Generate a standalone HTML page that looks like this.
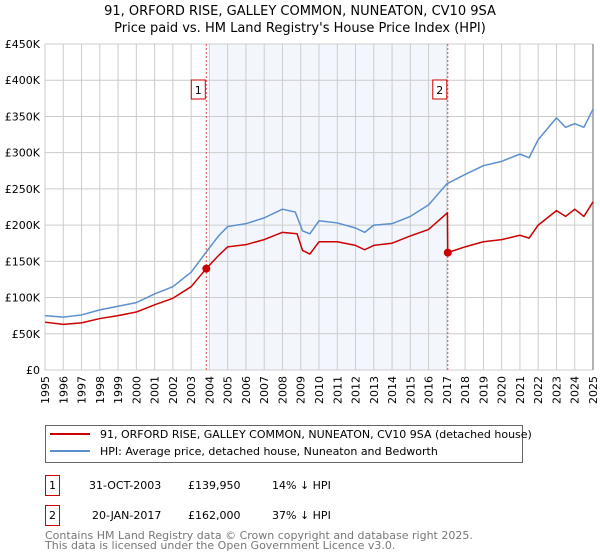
<!DOCTYPE html>
<html><head><meta charset="utf-8"><style>
body{margin:0;background:#fff;font-family:"DejaVu Sans","Liberation Sans",sans-serif;}
svg{display:block}
</style></head><body>
<svg id="chart" width="600" height="560" xmlns="http://www.w3.org/2000/svg">
<text x="300" y="15" text-anchor="middle" font-size="13" fill="#000">91, ORFORD RISE, GALLEY COMMON, NUNEATON, CV10 9SA</text>
<text x="300" y="32" text-anchor="middle" font-size="13" fill="#000">Price paid vs. HM Land Registry's House Price Index (HPI)</text>
<g id="plot"></g>
<g>
<rect x="45.5" y="425.5" width="477" height="37" fill="#fff" stroke="#666"/>
<line x1="50" y1="434" x2="90" y2="434" stroke="#cc0000" stroke-width="2"/>
<text x="100" y="438" font-size="11">91, ORFORD RISE, GALLEY COMMON, NUNEATON, CV10 9SA (detached house)</text>
<line x1="50" y1="451" x2="90" y2="451" stroke="#5b8fd0" stroke-width="2"/>
<text x="100" y="455" font-size="11">HPI: Average price, detached house, Nuneaton and Bedworth</text>
</g>
<g font-size="11">
<rect x="45.5" y="475.5" width="14" height="20" fill="#fff" stroke="#cc0000"/>
<text x="52.5" y="489" text-anchor="middle">1</text>
<text x="89" y="489">31-OCT-2003</text><text x="188" y="489">£139,950</text><text x="272" y="489">14% ↓ HPI</text>
<rect x="45.5" y="505.5" width="14" height="20" fill="#fff" stroke="#cc0000"/>
<text x="52.5" y="519" text-anchor="middle">2</text>
<text x="92" y="519">20-JAN-2017</text><text x="188" y="519">£162,000</text><text x="272" y="519">37% ↓ HPI</text>
</g>
</svg>
<script>
const yearTicks=[1995,1996,1997,1998,1999,2000,2001,2002,2003,2004,2005,2006,2007,2008,2009,2010,2011,2012,2013,2014,2015,2016,2017,2018,2019,2020,2021,2022,2023,2024,2025];
const priceTicks=[0,50,100,150,200,250,300,350,400,450];
const priceLabels=["£0","£50K","£100K","£150K","£200K","£250K","£300K","£350K","£400K","£450K"];
const hpiYears=[1995,1996,1997,1998,1999,2000,2001,2002,2003,2003.83,2004.5,2005,2006,2007,2008,2008.7,2009.1,2009.5,2010,2011,2012,2012.5,2013,2014,2015,2016,2017,2018,2019,2020,2021,2021.5,2022,2023,2023.5,2024,2024.5,2025];
const hpiValues=[75,73,76,83,88,93,105,115,135,163,185,198,202,210,222,218,192,188,206,203,196,190,200,202,212,228,257,270,282,288,298,293,318,348,335,340,335,360];
const propYears=[1995,1996,1997,1998,1999,2000,2001,2002,2003,2003.83,2004.5,2005,2006,2007,2008,2008.8,2009.1,2009.5,2010,2011,2012,2012.5,2013,2014,2015,2016,2017.03,2017.05,2018,2019,2020,2021,2021.5,2022,2023,2023.5,2024,2024.5,2025];
const propValues=[66,63,65,71,75,80,90,99,115,140,158,170,173,180,190,188,165,160,177,177,172,166,172,175,185,194,217,162,170,177,180,186,182,200,220,212,222,212,232];
const saleYears=[2003.83,2017.05];
const saleValues=[139.95,162];
const saleLabels=["1","2"];
const NS="http://www.w3.org/2000/svg";
const X0=45,X1=593,Y0=370,Y1=44;
const xs=y=>X0+(y-1995)/30*(X1-X0);
const ys=v=>Y0-v/450*(Y0-Y1);
const g=document.getElementById('plot');
function mk(t,a){const e=document.createElementNS(NS,t);for(const k in a)e.setAttribute(k,a[k]);g.appendChild(e);return e;}
const shade=mk('rect',{x:xs(2004.05),y:Y1,width:xs(saleYears[1])-xs(2004.05),height:Y0-Y1,fill:'#eef3fc',opacity:0.7});


yearTicks.forEach(yr=>{
 const l=mk('line',{x1:xs(yr),x2:xs(yr),y1:Y1,y2:Y0,stroke:'#cccccc','stroke-width':1});
 
 
 const t=mk('text',{x:0,y:0,'font-size':11,'text-anchor':'end',transform:`translate(${xs(yr)+4},${Y0+6}) rotate(-90)`});
 t.textContent=yr;
 
 
});
priceTicks.forEach((p,i)=>{
 const l=mk('line',{x1:X0,x2:X1,y1:ys(p),y2:ys(p),stroke:'#cccccc','stroke-width':1});
 
 
 const t=mk('text',{x:X0-5,y:ys(p)+4,'font-size':11,'text-anchor':'end'});
 t.textContent=priceLabels[i];
 
 
});
const edge=mk('line',{x1:X1,x2:X1,y1:Y1,y2:Y0,stroke:'#999','stroke-width':1.5});


saleYears.forEach((yr,i)=>{
 const l=mk('line',{x1:xs(yr),x2:xs(yr),y1:Y1,y2:Y0,stroke:'#e05050','stroke-width':1,'stroke-dasharray':'2,2'});
 
 
});
function poly(xa,va,col,name){
 const p=mk('polyline',{points:xa.map((x,i)=>xs(x)+','+ys(va[i])).join(' '),fill:'none',stroke:col,'stroke-width':1.5,'stroke-linejoin':'round'});
 
 
}
poly(hpiYears,hpiValues,'#5b8fd0','hpi-line');
poly(propYears,propValues,'#cc0000','property-price-line');
saleYears.forEach((yr,i)=>{
 const c=mk('circle',{cx:xs(yr),cy:ys(saleValues[i]),r:4,fill:'#cc0000'});
 
 
 const b=mk('rect',{x:xs(yr)-15,y:80,width:14,height:19,fill:'#fff',stroke:'#cc0000'});
 
 
 const t=mk('text',{x:xs(yr)-8,y:94,'font-size':11,'text-anchor':'middle'});
 t.textContent=saleLabels[i];
 
 
});
const svg=document.getElementById('chart');
[["Contains HM Land Registry data © Crown copyright and database right 2025.",539],["This data is licensed under the Open Government Licence v3.0.",549]].forEach((f,i)=>{
 const t=document.createElementNS(NS,'text');
 t.setAttribute('x',45);t.setAttribute('y',f[1]);t.setAttribute('font-size',11);t.setAttribute('fill','#777');
 t.textContent=f[0];
 
 
 svg.appendChild(t);
});
</script>
</body></html>
